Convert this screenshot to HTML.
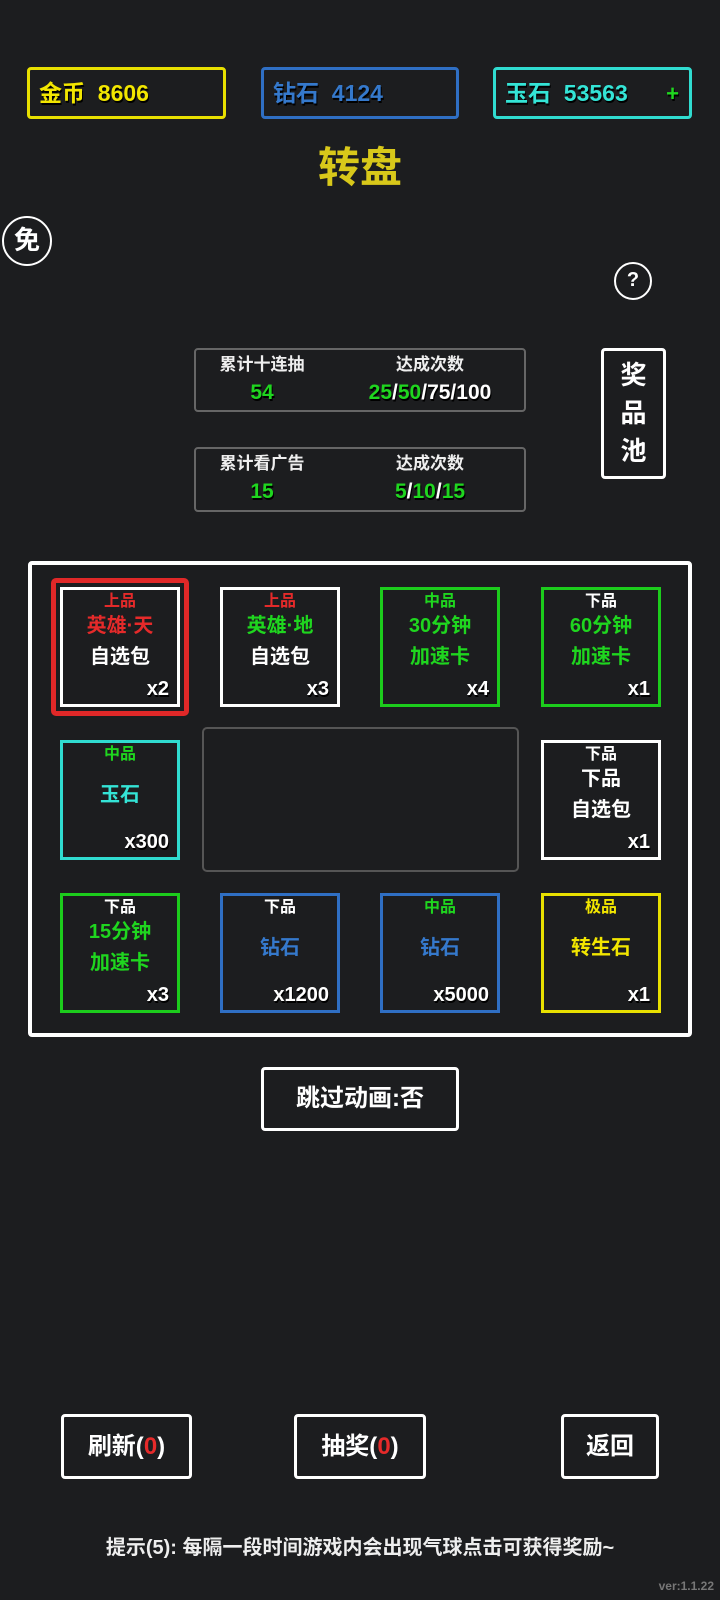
<!DOCTYPE html>
<html><head><meta charset="utf-8"><style>
*{margin:0;padding:0;box-sizing:border-box}
body{width:720px;height:1600px;background:#1c1d1f;position:relative;overflow:hidden;font-family:"Liberation Sans","Noto Sans CJK SC",sans-serif;font-weight:bold;color:#fff}
.a{position:absolute}
.sh{text-shadow:1px 2px 0 #000}
.top{position:absolute;top:67px;height:52px;border:3px solid;border-radius:4px;font-size:23px;line-height:46px;padding-left:9px}
.cell{position:absolute;width:120px;height:120px;border:3px solid #fff}
.cell div{position:absolute;left:0;width:100%;text-align:center;white-space:nowrap}
.l1{top:2px;font-size:16px;line-height:20px}
.l2{top:22px;font-size:20px;line-height:28px}
.l3{top:53px;font-size:20px;line-height:28px;color:#fff}
.lm{top:38px;font-size:20px;line-height:28px}
.cnt{bottom:2px;right:8px;left:auto!important;width:auto!important;font-size:20px;line-height:26px;text-shadow:1px 2px 0 #000}
.btn{position:absolute;border:3px solid #fff;border-radius:4px;text-align:center;font-size:24px}
.w{color:#fff}.r{color:#e52a2a}.g{color:#1fd61f}.c{color:#34e4d6}.b{color:#3579cc}.y{color:#f2e600}
</style></head><body>
<div class="top sh" style="left:27px;width:199px;border-color:#e8e000;color:#f2e600">金币&nbsp; 8606</div>
<div class="top sh" style="left:261px;width:198px;border-color:#2f6fc4;color:#3579cc">钻石&nbsp; 4124</div>
<div class="top sh" style="left:493px;width:199px;border-color:#30dcd0;color:#34e4d6">玉石&nbsp; 53563<span class="a g" style="right:10px;top:1px;font-size:22px">+</span></div>
<div class="a" style="left:0;width:720px;top:140px;text-align:center;font-size:42px;line-height:56px;color:#d8c81a">转盘</div>
<div class="a" style="left:2px;top:216px;width:50px;height:50px;border:2px solid #fff;border-radius:50%;text-align:center;font-size:26px;line-height:44px">免</div>
<div class="a" style="left:614px;top:262px;width:38px;height:38px;border:2px solid #fff;border-radius:50%;text-align:center;font-size:20px;line-height:33px">?</div>

<div class="a" style="left:194px;top:348px;width:332px;height:64px;border:2px solid #666;border-radius:4px"></div>
<div class="a" style="left:194px;top:447px;width:332px;height:65px;border:2px solid #666;border-radius:4px"></div>
<div class="a" style="left:212px;top:353px;width:100px;text-align:center;font-size:17px;line-height:24px;color:#eee">累计十连抽</div>
<div class="a sh g" style="left:212px;top:380px;width:100px;text-align:center;font-size:21px;line-height:26px">54</div>
<div class="a" style="left:360px;top:353px;width:140px;text-align:center;font-size:17px;line-height:24px;color:#eee">达成次数</div>
<div class="a sh" style="left:330px;top:380px;width:200px;text-align:center;font-size:21px;line-height:26px"><span class="g">25</span>/<span class="g">50</span>/75/100</div>
<div class="a" style="left:212px;top:452px;width:100px;text-align:center;font-size:17px;line-height:24px;color:#eee">累计看广告</div>
<div class="a sh g" style="left:212px;top:479px;width:100px;text-align:center;font-size:21px;line-height:26px">15</div>
<div class="a" style="left:360px;top:452px;width:140px;text-align:center;font-size:17px;line-height:24px;color:#eee">达成次数</div>
<div class="a sh g" style="left:360px;top:479px;width:140px;text-align:center;font-size:21px;line-height:26px">5<span class="w">/</span>10<span class="w">/</span>15</div>
<div class="a" style="left:601px;top:348px;width:65px;height:131px;border:3px solid #fff;border-radius:4px;text-align:center;font-size:26px;line-height:38px;padding-top:5px">奖<br>品<br>池</div>

<div class="a" style="left:28px;top:561px;width:664px;height:476px;border:4px solid #fff;border-radius:4px"></div>
<div class="a" style="left:51px;top:578px;width:138px;height:138px;border:5px solid #e02828;border-radius:5px"></div>
<div class="a" style="left:202px;top:727px;width:317px;height:145px;border:2px solid #555;border-radius:5px"></div>

<div class="cell" style="left:60px;top:587px"><div class="l1 r">上品</div><div class="l2 r">英雄·天</div><div class="l3">自选包</div><div class="cnt">x2</div></div>
<div class="cell" style="left:220px;top:587px"><div class="l1 r">上品</div><div class="l2 g">英雄·地</div><div class="l3">自选包</div><div class="cnt">x3</div></div>
<div class="cell" style="left:380px;top:587px;border-color:#1ccc1c"><div class="l1 g">中品</div><div class="l2 g">30分钟</div><div class="l3 g" style="color:#1fd61f">加速卡</div><div class="cnt">x4</div></div>
<div class="cell" style="left:541px;top:587px;border-color:#1ccc1c"><div class="l1 w">下品</div><div class="l2 g">60分钟</div><div class="l3" style="color:#1fd61f">加速卡</div><div class="cnt">x1</div></div>

<div class="cell" style="left:60px;top:740px;border-color:#30dcd0"><div class="l1 g">中品</div><div class="lm c">玉石</div><div class="cnt">x300</div></div>
<div class="cell" style="left:541px;top:740px"><div class="l1 w">下品</div><div class="l2 w">下品</div><div class="l3">自选包</div><div class="cnt">x1</div></div>

<div class="cell" style="left:60px;top:893px;border-color:#1ccc1c"><div class="l1 w">下品</div><div class="l2 g">15分钟</div><div class="l3" style="color:#1fd61f">加速卡</div><div class="cnt">x3</div></div>
<div class="cell" style="left:220px;top:893px;border-color:#2f6fc4"><div class="l1 w">下品</div><div class="lm b">钻石</div><div class="cnt">x1200</div></div>
<div class="cell" style="left:380px;top:893px;border-color:#2f6fc4"><div class="l1 g">中品</div><div class="lm b">钻石</div><div class="cnt">x5000</div></div>
<div class="cell" style="left:541px;top:893px;border-color:#e8e000"><div class="l1 y">极品</div><div class="lm y">转生石</div><div class="cnt">x1</div></div>

<div class="btn" style="left:261px;top:1067px;width:198px;height:64px;line-height:58px">跳过动画:否</div>
<div class="btn" style="left:61px;top:1414px;width:131px;height:65px;line-height:59px">刷新(<span class="r">0</span>)</div>
<div class="btn" style="left:294px;top:1414px;width:132px;height:65px;line-height:59px">抽奖(<span class="r">0</span>)</div>
<div class="btn" style="left:561px;top:1414px;width:98px;height:65px;line-height:59px">返回</div>
<div class="a" style="left:0;width:720px;top:1535px;text-align:center;font-size:20px;line-height:26px;color:#eee">提示(5): 每隔一段时间游戏内会出现气球点击可获得奖励~</div>
<div class="a" style="right:6px;top:1578px;font-size:12px;line-height:16px;color:#777">ver:1.1.22</div>
</body></html>
